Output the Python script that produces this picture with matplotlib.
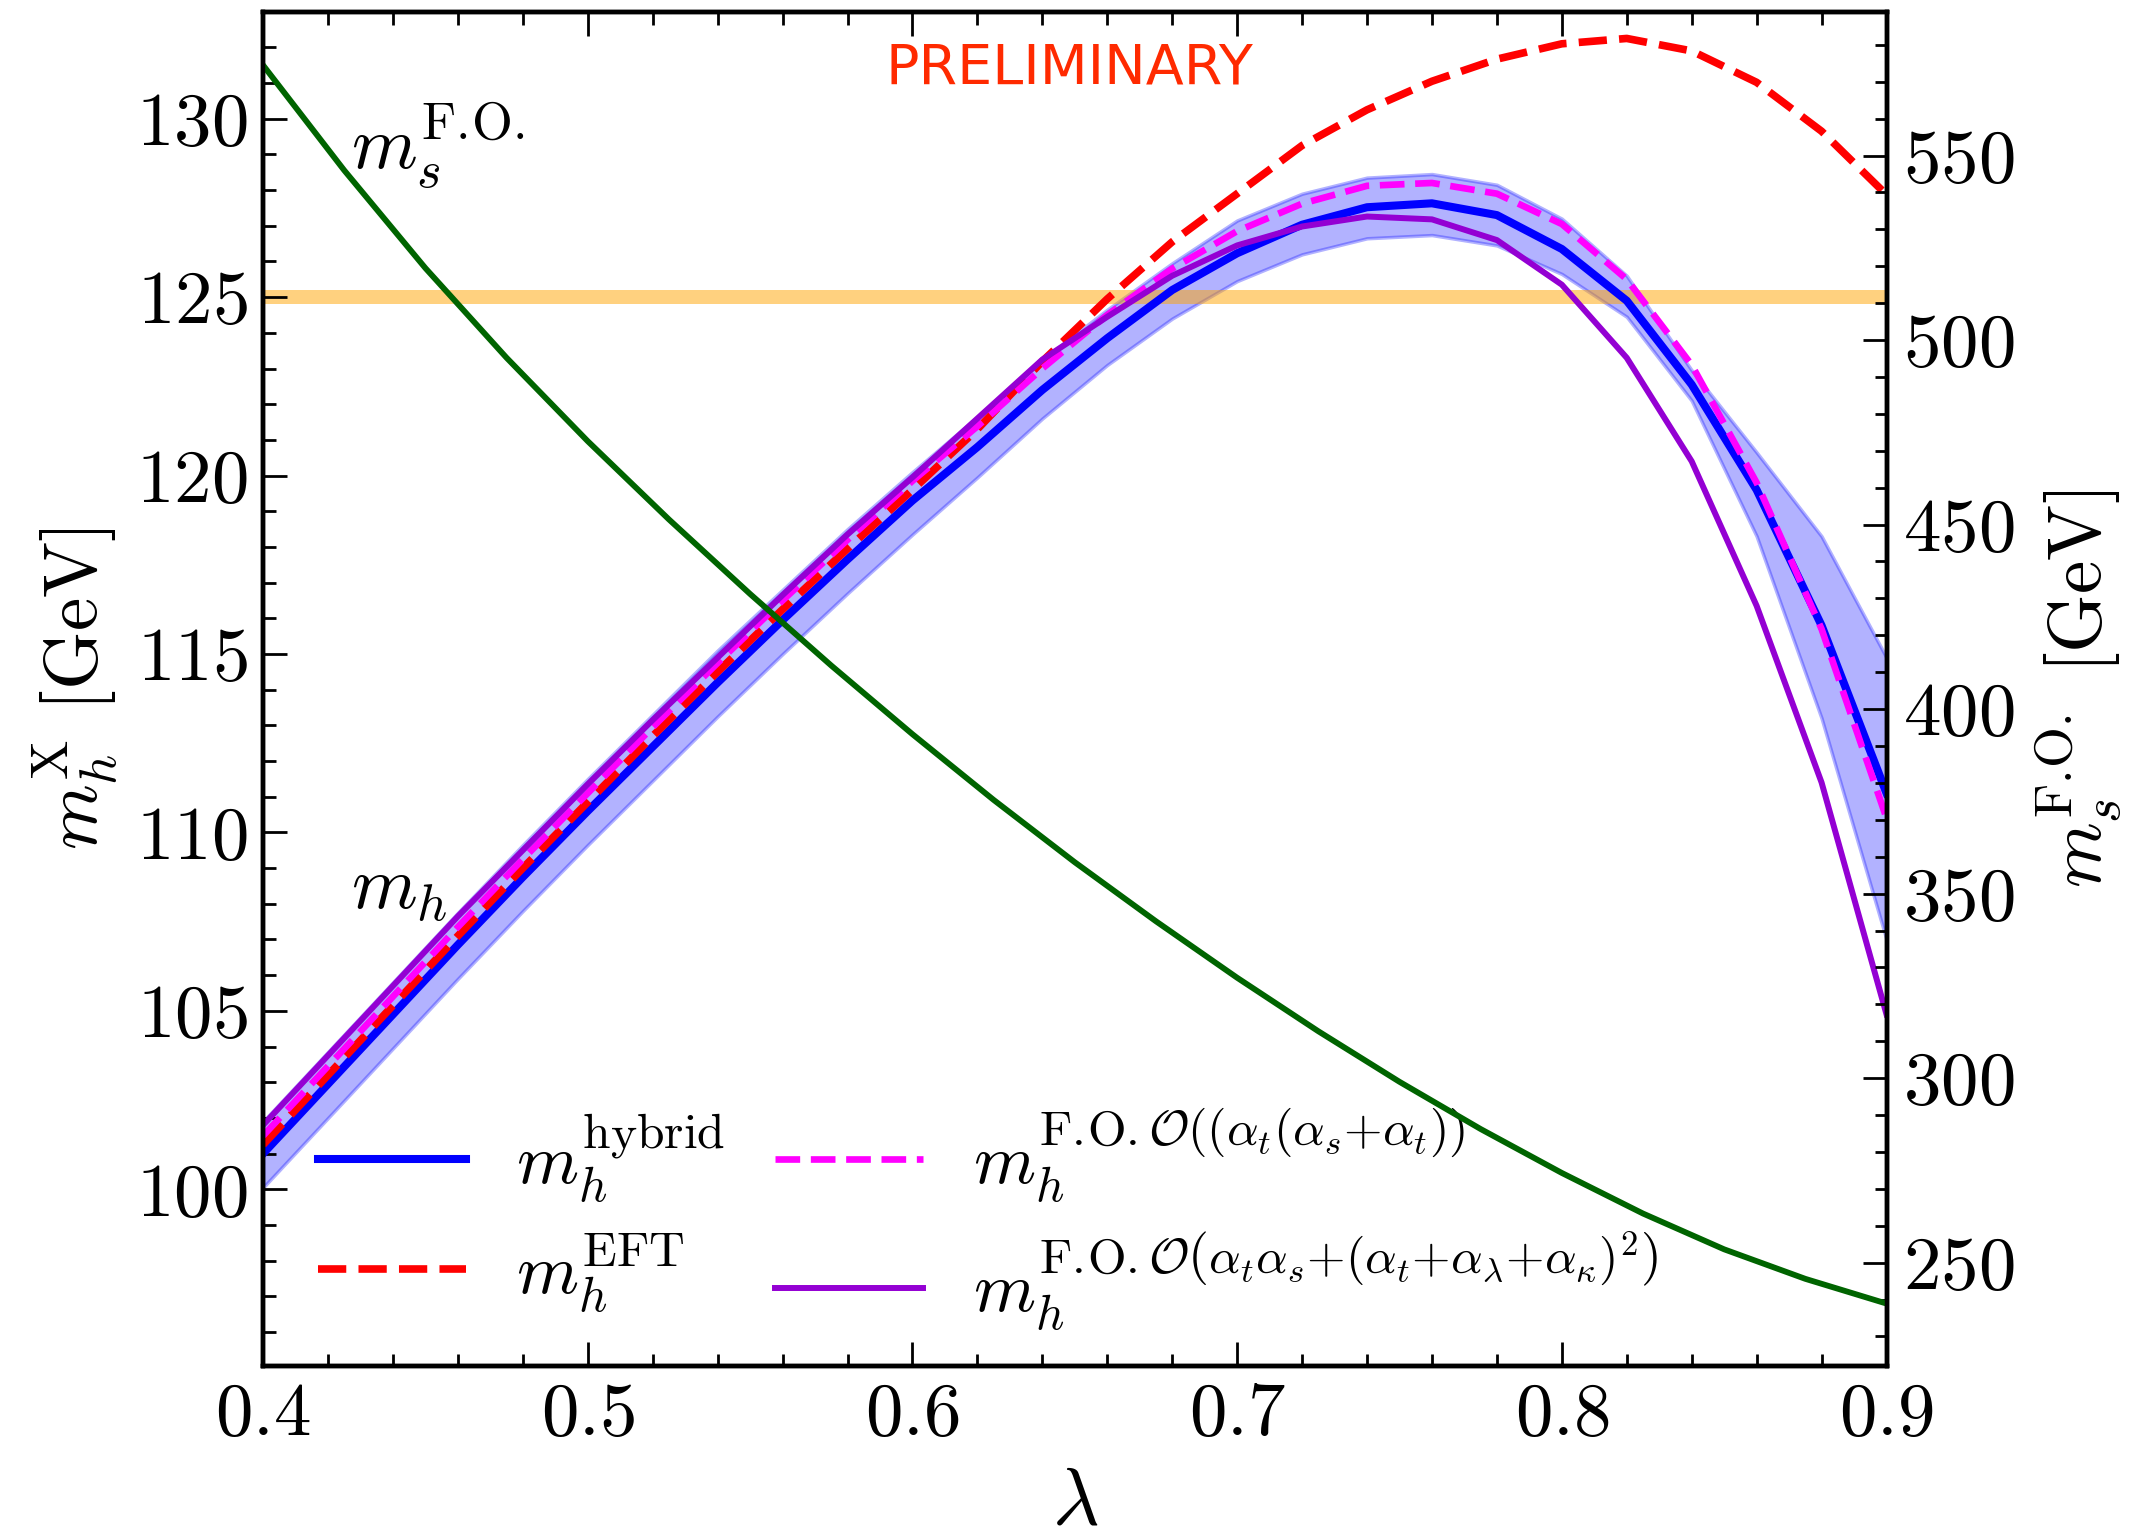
import matplotlib
matplotlib.use('Agg')
from matplotlib import pyplot as plt
from matplotlib.ticker import MultipleLocator
from matplotlib.lines import Line2D

plt.rcParams['font.family'] = 'serif'
plt.rcParams['font.serif'] = ['cmr10']
plt.rcParams['mathtext.fontset'] = 'cm'
plt.rcParams['axes.formatter.use_mathtext'] = True

# lambda scan points for the Higgs mass curves
lam = [0.40, 0.42, 0.44, 0.46, 0.48, 0.50, 0.52, 0.54, 0.56, 0.58, 0.60, 0.62, 0.64,
       0.66, 0.68, 0.70, 0.72, 0.74, 0.76, 0.78, 0.80, 0.82, 0.84, 0.86, 0.88, 0.90]

mh_hybrid = [101.0, 102.95, 104.9, 106.85, 108.75, 110.6, 112.4, 114.2, 115.95, 117.65, 119.3, 120.8, 122.4,
             123.85, 125.2, 126.23, 127.03, 127.52, 127.63, 127.3, 126.35, 124.9, 122.55, 119.6, 115.8, 111.1]
mh_hybrid_lo = [100.05, 102.0, 103.95, 105.9, 107.8, 109.65, 111.45, 113.25, 115.0, 116.7, 118.35, 119.95, 121.6,
                123.1, 124.4, 125.45, 126.2, 126.65, 126.74, 126.45, 125.65, 124.45, 122.1, 118.3, 113.2, 107.0]
mh_hybrid_hi = [101.9, 103.85, 105.8, 107.75, 109.65, 111.5, 113.3, 115.1, 116.8, 118.5, 120.1, 121.65, 123.25,
                124.65, 125.95, 127.15, 127.9, 128.35, 128.45, 128.15, 127.2, 125.6, 122.95, 120.65, 118.3, 114.9]
mh_eft = [101.25, 103.2, 105.15, 107.1, 109.0, 110.85, 112.7, 114.5, 116.25, 117.95, 119.6, 121.3, 123.2,
          124.95, 126.55, 127.9, 129.25, 130.25, 131.05, 131.67, 132.1, 132.25, 131.9, 131.02, 129.65, 127.87]
mh_fo_2l = [101.5, 103.45, 105.4, 107.35, 109.25, 111.1, 112.95, 114.75, 116.5, 118.2, 119.85, 121.38, 123.0,
            124.5, 125.8, 126.85, 127.62, 128.12, 128.2, 127.9, 127.05, 125.5, 123.1, 119.8, 115.7, 110.4]
mh_fo_full = [101.8, 103.75, 105.7, 107.65, 109.5, 111.35, 113.15, 114.9, 116.65, 118.35, 119.95, 121.6, 123.25,
              124.45, 125.6, 126.45, 126.98, 127.26, 127.18, 126.6, 125.35, 123.3, 120.4, 116.35, 111.4, 104.9]

# singlet mass (right axis)
lam_s = [0.400, 0.425, 0.450, 0.475, 0.500, 0.525, 0.550, 0.575, 0.600, 0.625, 0.650,
         0.675, 0.700, 0.725, 0.750, 0.775, 0.800, 0.825, 0.850, 0.875, 0.900]
ms_fo = [574.5, 546.0, 519.5, 495.2, 472.6, 451.4, 431.2, 411.8, 393.2, 375.4, 358.5,
         342.5, 327.2, 312.7, 299.0, 286.2, 274.3, 263.3, 253.6, 245.6, 238.9]

mh_exp = 125.0

fs = 54
fs_leg = 51

fig = plt.figure(figsize=(21.44, 15.37), dpi=100)
ax = fig.add_axes([0.1227, 0.1113, 0.7572, 0.8811])
ax2 = ax.twinx()

ax.fill_between(lam, mh_hybrid_lo, mh_hybrid_hi, color='blue', alpha=0.3, lw=2.5)
ax.axhspan(mh_exp - 0.2, mh_exp + 0.2, color='orange', alpha=0.5, lw=0)
ax.plot(lam, mh_hybrid, color='blue', lw=5.8)
ax.plot(lam, mh_eft, color='red', lw=5.5, ls='--')
ax.plot(lam, mh_fo_2l, color='magenta', lw=4.8, ls='--')
ax.plot(lam, mh_fo_full, color='darkviolet', lw=4.3)

ax2.plot(lam_s, ms_fo, color='darkgreen', lw=4.2)

ax.set_xlim(0.4, 0.9)
ax.set_ylim(95.05, 133)
ax2.set_ylim(222, 589)

ax.xaxis.set_major_locator(MultipleLocator(0.1))
ax.xaxis.set_minor_locator(MultipleLocator(0.02))
ax.yaxis.set_major_locator(MultipleLocator(5))
ax.yaxis.set_minor_locator(MultipleLocator(1))
ax2.yaxis.set_major_locator(MultipleLocator(50))
ax2.yaxis.set_minor_locator(MultipleLocator(10))

ax.tick_params(which='both', direction='in', top=True, right=False, labelsize=fs, width=2)
ax.tick_params(which='major', length=17)
ax.tick_params(which='minor', length=9)
ax.tick_params(axis='y', pad=11)
ax.tick_params(axis='x', pad=12)
ax2.tick_params(which='both', direction='in', labelsize=fs, width=2, pad=12)
ax2.tick_params(which='major', length=17)
ax2.tick_params(which='minor', length=9)
for sp in ax.spines.values():
    sp.set_linewidth(3.2)
for sp in ax2.spines.values():
    sp.set_linewidth(3.2)

ax.set_xlabel(r'$\lambda$', fontsize=fs + 4, va='center')
ax.xaxis.set_label_coords(0.5, -0.102)
ax.set_ylabel(r'$m_h^{\rm X}$ [GeV]', fontsize=fs, va='center')
ax.yaxis.set_label_coords(-0.116, 0.5)
ax2.set_ylabel(r'$m_s^{{\rm F.\!O.}}$ [GeV]', fontsize=fs, va='center')
ax2.yaxis.set_label_coords(1.118, 0.5)

ax.text(0.427, 128.6, r'$m_s^{{\rm F.\!O.}}$', fontsize=fs)
ax.text(0.427, 107.85, r'$m_h$', fontsize=fs)
ax.text(0.6485, 131.4, 'PRELIMINARY', family='DejaVu Sans', fontsize=40,
        color='#ff2a00', ha='center', va='center')

handles = [Line2D([], [], color='blue', lw=5.8),
           Line2D([], [], color='red', lw=5.5, ls='--'),
           Line2D([], [], color='magenta', lw=4.8, ls='--'),
           Line2D([], [], color='darkviolet', lw=4.3)]
labels = [r'$m_h^{\rm hybrid}$',
          r'$m_h^{\rm EFT}$',
          r'$m_h^{{\rm F.\!O.}\mathcal{O}((\alpha_t(\alpha_s{+}\alpha_t))}$',
          r'$m_h^{{\rm F.\!O.}\mathcal{O}\left(\alpha_t\alpha_s{+}(\alpha_t{+}\alpha_\lambda{+}\alpha_\kappa)^2\right)}$']
ax.legend(handles, labels, ncol=2, loc='lower left', bbox_to_anchor=(0.014, 0.0),
          frameon=False, fontsize=fs_leg, handlelength=2.1, handletextpad=0.7,
          columnspacing=0.7, labelspacing=0.35, borderaxespad=0.05)

fig.savefig('out.png', dpi=100)
